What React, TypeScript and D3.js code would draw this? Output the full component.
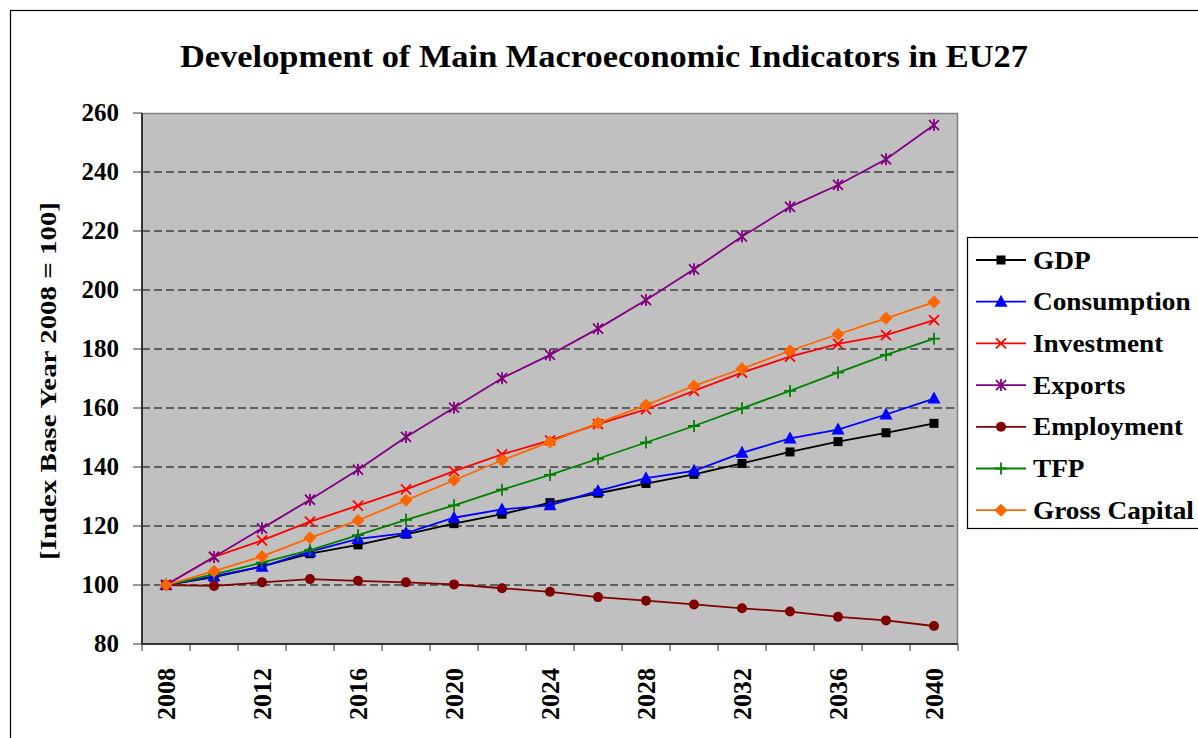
import React from "react";
import * as d3 from "d3";

const years = [2008, 2010, 2012, 2014, 2016, 2018, 2020, 2022, 2024, 2026, 2028, 2030, 2032, 2034, 2036, 2038, 2040];
const labeledYears = [2008, 2012, 2016, 2020, 2024, 2028, 2032, 2036, 2040];
const yTicks = [80, 100, 120, 140, 160, 180, 200, 220, 240, 260];

const gdp = [100, 102.7, 106.3, 110.6, 113.6, 117.2, 120.8, 124.0, 127.9, 131.1, 134.4, 137.5, 141.2, 145.1, 148.6, 151.6, 154.8];
const consumption = [100, 103.0, 106.2, 111.3, 115.6, 117.6, 122.8, 125.6, 127.0, 131.9, 136.2, 138.7, 144.8, 149.7, 152.7, 157.8, 163.2];
const investment = [100, 109.5, 115.1, 121.5, 126.9, 132.4, 138.6, 144.3, 149.0, 154.5, 159.5, 165.8, 172.0, 177.4, 181.7, 184.7, 189.8];
const exportsS = [100, 109.5, 119.2, 128.9, 139.1, 150.2, 160.1, 170.1, 178.0, 186.9, 196.6, 207.0, 218.1, 228.2, 235.6, 244.3, 255.9];
const employment = [100, 99.7, 100.9, 102.0, 101.4, 100.9, 100.2, 98.9, 97.7, 95.9, 94.7, 93.4, 92.1, 91.0, 89.2, 88.0, 86.1];
const tfp = [100, 103.6, 107.6, 111.8, 116.9, 122.1, 127.0, 132.3, 137.3, 142.8, 148.3, 153.9, 159.9, 165.8, 172.0, 178.0, 183.5];
const grossCapital = [100, 104.7, 109.7, 116.0, 121.9, 128.7, 135.5, 142.3, 148.5, 154.9, 161.0, 167.5, 173.3, 179.4, 185.0, 190.4, 195.9];

const seriesNames = ["GDP", "Consumption", "Investment", "Exports", "Employment", "TFP", "Gross Capital"];
const seriesValues = [gdp, consumption, investment, exportsS, employment, tfp, grossCapital];
const seriesColors = ["#000000", "#0000FF", "#FF0000", "#800080", "#800000", "#008000", "#FF6600"];
const seriesMarkers = ["square", "triangle", "x", "star", "circle", "plus", "diamond"];

const FONT = "'Liberation Serif', 'Times New Roman', serif";

function Marker({ type, x, y, color }: { type: string; x: number; y: number; color: string }) {
  switch (type) {
    case "square":
      return <rect x={x - 4.5} y={y - 4.5} width={9} height={9} fill={color} />;
    case "triangle":
      return <path d={`M${x},${y - 7} L${x + 6.5},${y + 5} L${x - 6.5},${y + 5} Z`} fill={color} />;
    case "x":
      return (
        <path d={`M${x - 5},${y - 5} L${x + 5},${y + 5} M${x - 5},${y + 5} L${x + 5},${y - 5}`} stroke={color} strokeWidth={1.8} fill="none" />
      );
    case "star":
      return (
        <path
          d={`M${x - 5},${y - 5} L${x + 5},${y + 5} M${x - 5},${y + 5} L${x + 5},${y - 5} M${x},${y - 6} L${x},${y + 6}`}
          stroke={color}
          strokeWidth={1.8}
          fill="none"
        />
      );
    case "circle":
      return <circle cx={x} cy={y} r={5} fill={color} />;
    case "plus":
      return <path d={`M${x - 6},${y} L${x + 6},${y} M${x},${y - 6} L${x},${y + 6}`} stroke={color} strokeWidth={1.8} fill="none" />;
    case "diamond":
      return <path d={`M${x},${y - 6.5} L${x + 6.5},${y} L${x},${y + 6.5} L${x - 6.5},${y} Z`} fill={color} />;
    default:
      return null;
  }
}

export default function App() {
  const W = 1198;
  const H = 738;
  const left = 142;
  const right = 958;
  const top = 113;
  const bottom = 644;

  const x = d3.scaleBand<number>().domain(years).range([left, right]).padding(0);
  const cx = (yr: number) => (x(yr) as number) + x.bandwidth() / 2;
  const y = d3.scaleLinear().domain([80, 260]).range([bottom, top]);

  const line = d3
    .line<number>()
    .x((_, i) => cx(years[i]))
    .y((v) => y(v));

  const boundaries = years.map((yr) => x(yr) as number).concat([right]);

  const legendX = 967;
  const legendY = 237;
  const legendRowY = (i: number) => 260 + i * 41.7;

  return (
    <svg width={W} height={H} style={{ position: "absolute", left: 0, top: 0, display: "block" }}>
      <rect x={0} y={0} width={W} height={H} fill="#ffffff" />
      <rect x={10.5} y={10.5} width={W + 20} height={H + 20} fill="#ffffff" stroke="#000" strokeWidth={1.2} />

      <text
        x={604}
        y={67}
        textAnchor="middle"
        fontFamily={FONT}
        fontWeight="bold"
        fontSize={31}
        textLength={848}
        lengthAdjust="spacingAndGlyphs"
      >
        Development of Main Macroeconomic Indicators in EU27
      </text>

      {/* plot area */}
      <rect x={left} y={top} width={right - left} height={bottom - top} fill="#C0C0C0" />
      {yTicks
        .filter((t) => t > 80 && t < 260)
        .map((t) => (
          <line key={t} x1={left} x2={right} y1={y(t)} y2={y(t)} stroke="#000" strokeWidth={1} strokeDasharray="8,4" />
        ))}
      <path d={`M${left},${top + 0.5} H${right - 0.5} V${bottom}`} fill="none" stroke="#808080" strokeWidth={1.5} />

      {/* series */}
      {seriesValues.map((vals, si) => (
        <g key={seriesNames[si]}>
          <path d={line(vals) || ""} fill="none" stroke={seriesColors[si]} strokeWidth={1.8} />
          {vals.map((v, i) => (
            <Marker key={i} type={seriesMarkers[si]} x={cx(years[i])} y={y(v)} color={seriesColors[si]} />
          ))}
        </g>
      ))}

      {/* axes */}
      <line x1={left} x2={left} y1={top} y2={bottom} stroke="#333" strokeWidth={2} />
      <line x1={left} x2={right} y1={bottom} y2={bottom} stroke="#333" strokeWidth={2} />
      {yTicks.map((t) => (
        <g key={t}>
          <line x1={left - 9} x2={left} y1={y(t)} y2={y(t)} stroke="#333" strokeWidth={1} />
          <text
            x={119}
            y={y(t) + 8}
            textAnchor="end"
            fontFamily={FONT}
            fontWeight="bold"
            fontSize={25}
          >
            {t}
          </text>
        </g>
      ))}
      {boundaries.map((b, i) => (
        <line key={i} x1={b} x2={b} y1={bottom} y2={bottom + 7} stroke="#333" strokeWidth={1} />
      ))}
      {labeledYears.map((yr) => (
        <text
          key={yr}
          transform={`translate(${cx(yr) + 8.5},668) rotate(-90)`}
          textAnchor="end"
          fontFamily={FONT}
          fontWeight="bold"
          fontSize={26}
        >
          {yr}
        </text>
      ))}

      <text
        transform={`translate(56,381) rotate(-90)`}
        textAnchor="middle"
        fontFamily={FONT}
        fontWeight="bold"
        fontSize={24}
        textLength={358}
        lengthAdjust="spacingAndGlyphs"
      >
        [Index Base Year 2008 = 100]
      </text>

      {/* legend */}
      <rect x={legendX + 0.5} y={legendY + 0.5} width={260} height={291} fill="#ffffff" stroke="#000" strokeWidth={1.2} />
      {seriesNames.map((name, i) => {
        const ry = legendRowY(i);
        return (
          <g key={name}>
            <line x1={976} x2={1026} y1={ry} y2={ry} stroke={seriesColors[i]} strokeWidth={1.8} />
            <Marker type={seriesMarkers[i]} x={1001} y={ry} color={seriesColors[i]} />
            <text
              transform={`translate(1033,${ry + 8.5}) scale(1.05,1)`}
              fontFamily={FONT}
              fontWeight="bold"
              fontSize={26}
            >
              {name}
            </text>
          </g>
        );
      })}
    </svg>
  );
}
